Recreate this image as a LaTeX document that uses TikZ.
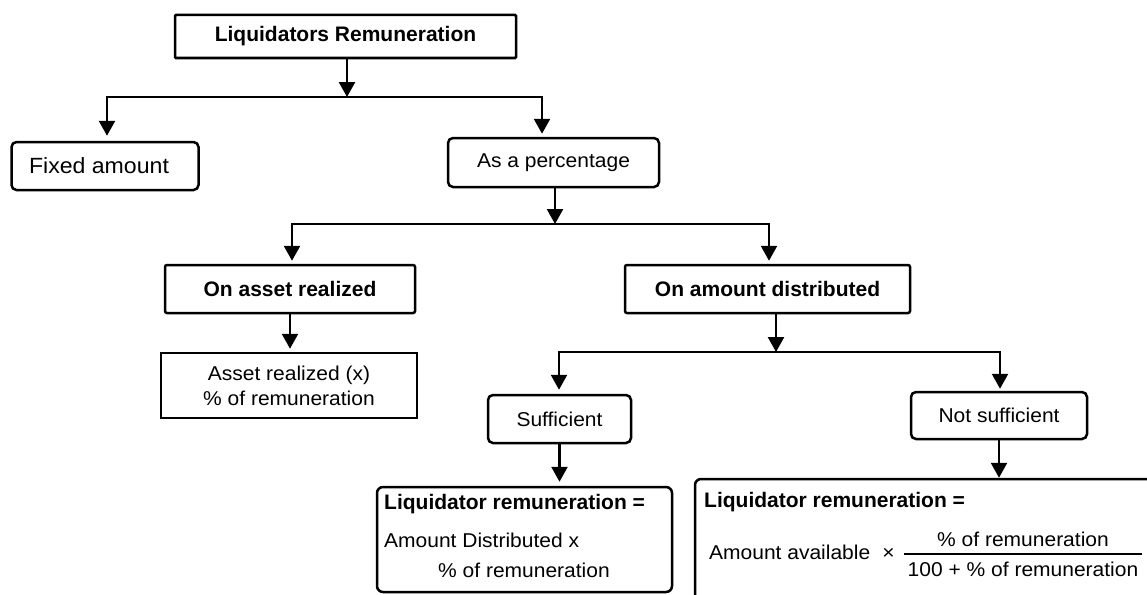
\documentclass[tikz,border=0pt]{standalone}
\usepackage{fontspec}
\setmainfont{Liberation Sans}
\newfontfamily\rgfont{Liberation Sans}[FakeStretch=1.05]
\usetikzlibrary{arrows.meta}
\begin{document}
\begin{tikzpicture}[x=1pt,y=-1pt,
  conn/.style={line width=2.5pt,-{Triangle[length=15pt,width=16pt]}},
  hline/.style={line width=2.5pt,line cap=rect},
  boxbase/.style={draw,line width=2.5pt,inner sep=0pt,align=center},
  hbox/.style={boxbase,rounded corners=2pt,font=\bfseries\fontsize{21}{25}\selectfont},
  rbox/.style={boxbase,rounded corners=5pt,font=\rgfont\fontsize{20}{25}\selectfont},
  sbox/.style={boxbase,font=\rgfont\fontsize{20}{25}\selectfont},
  txtb/.style={inner sep=0pt,font=\bfseries\fontsize{21}{25}\selectfont},
  txtr/.style={inner sep=0pt,font=\rgfont\fontsize{20}{25}\selectfont}]
\useasboundingbox (0,0) rectangle (1147,594);
\clip (0,0) rectangle (1147,594);

% boxes
\node[hbox,rounded corners=1pt,minimum width=341pt,minimum height=43pt] (top) at (345.5,36.5) {Liquidators Remuneration};
\node[rbox,font=\rgfont\fontsize{22}{26}\selectfont,minimum width=187pt,minimum height=48pt] (fixed) at (105,166) {Fixed amount\hspace{12pt}};
\node[rbox,minimum width=211pt,minimum height=49pt] (pct) at (553.5,162.5) {As a percentage};
\node[hbox,minimum width=250pt,minimum height=48pt] (asset) at (290,289) {On asset realized};
\node[hbox,minimum width=285pt,minimum height=48pt] (amount) at (767.5,289) {On amount distributed};
\node[sbox,minimum width=256pt,minimum height=65pt] (assetres) at (289,385.5) {Asset realized (x)\\\% of remuneration};
\node[rbox,minimum width=143pt,minimum height=48pt] (suff) at (559.5,419) {Sufficient};
\node[rbox,minimum width=176pt,minimum height=47pt] (notsuff) at (999,415.5) {Not sufficient};
\node[rbox,rounded corners=6pt,minimum width=295pt,minimum height=105pt] (suffres) at (524.5,539.5) {};
\node[rbox,rounded corners=6pt,minimum width=475pt,minimum height=141pt] (notres) at (932.5,549.5) {};

% texts in result boxes
\node[txtb,anchor=base west] (s1) at (384,509) {Liquidator remuneration =};
\node[txtr,anchor=base west] (s2) at (384,547) {Amount Distributed x};
\node[txtr,anchor=base west] (s3) at (438,577) {\% of remuneration};
\node[txtb,anchor=base west] (n1) at (704,507) {Liquidator remuneration =};
\node[txtr,anchor=base west] (n2) at (709,559) {Amount available\hspace{12pt}×};
\node[txtr,anchor=base] (num) at (1023,546) {\% of remuneration};
\node[txtr,anchor=base] (den) at (1023,576) {100 + \% of remuneration};
\coordinate (barL) at (904,554);
\coordinate (barR) at (1142,554);
\draw[line width=1.3pt] (barL) -- (barR);

% level 1
\coordinate (j1) at (347,97);
\coordinate (b1l) at (107,97);
\coordinate (b1r) at (542,97);
\draw[conn] (j1 |- top.south) -- (j1);
\draw[hline] (b1l) -- (b1r);
\draw[conn,shorten >=5pt] (b1l) -- (b1l |- fixed.north);
\draw[conn,shorten >=3pt] (b1r) -- (b1r |- pct.north);

% level 2
\coordinate (j2) at (555,224);
\coordinate (b2l) at (292,224);
\coordinate (b2r) at (769,224);
\draw[conn] (j2 |- pct.south) -- (j2);
\draw[hline] (b2l) -- (b2r);
\draw[conn,shorten >=3pt] (b2l) -- (b2l |- asset.north);
\draw[conn,shorten >=3pt] (b2r) -- (b2r |- amount.north);
\draw[conn,shorten >=3pt] (asset.south) -- (asset.south |- assetres.north);

% level 3
\coordinate (j3) at (776,352);
\coordinate (b3l) at (559,352);
\coordinate (b3r) at (1000,352);
\draw[conn] (j3 |- amount.south) -- (j3);
\draw[hline] (b3l) -- (b3r);
\draw[conn,shorten >=4pt] (b3l) -- (b3l |- suff.north);
\draw[conn,shorten >=2pt] (b3r) -- (b3r |- notsuff.north);
\draw[conn,shorten >=4pt] (suff.south) -- (suff.south |- suffres.north);
\draw[conn] (notsuff.south) -- (notsuff.south |- notres.north);
\end{tikzpicture}
\end{document}
